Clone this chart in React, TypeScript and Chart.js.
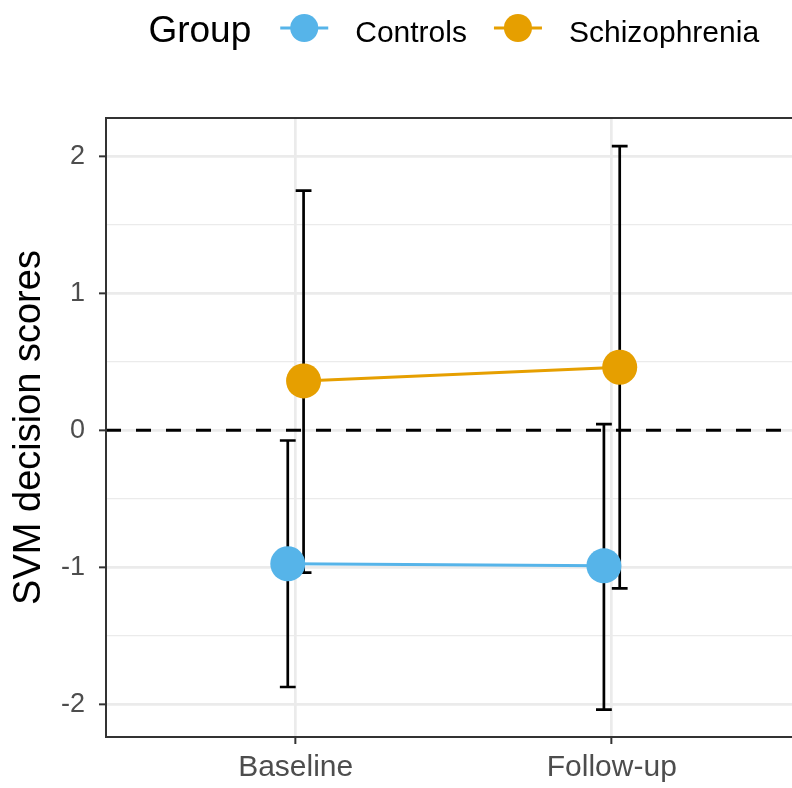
import React, { useEffect, useRef } from 'react';
import { Chart, registerables } from 'chart.js';

Chart.register(...registerables);

const categories = ['Baseline', 'Follow-up'];
const groups = ['Controls', 'Schizophrenia'];
const groupColors = ['#56B4E9', '#E69F00'];
const controlsMean = [-0.975, -0.99];
const controlsLower = [-1.875, -2.04];
const controlsUpper = [-0.075, 0.045];
const schizMean = [0.36, 0.46];
const schizLower = [-1.04, -1.155];
const schizUpper = [1.75, 2.075];
const yMajorTicks = [-2, -1, 0, 1, 2];
const refLine = 0;

const FONT = "'Liberation Sans', Arial, Helvetica, sans-serif";
const DODGE = 0.025;
const CAP_HALF = 0.025;
const X_MIN = 0.4;
const X_MAX_FULL = 2.6;
const X_MAX_VISIBLE = 2.57;

const means = [controlsMean, schizMean];
const lowers = [controlsLower, schizLower];
const uppers = [controlsUpper, schizUpper];
const offsets = [-DODGE, DODGE];

const overlayPlugin = {
  id: 'overlay',
  beforeDatasetsDraw(chart: any) {
    const { ctx, chartArea, scales } = chart;
    const xs = scales.x;
    const ys = scales.y;
    ctx.save();
    ctx.beginPath();
    ctx.rect(chartArea.left, chartArea.top, chartArea.right - chartArea.left, chartArea.bottom - chartArea.top);
    ctx.clip();
    const y0 = ys.getPixelForValue(refLine);
    ctx.strokeStyle = '#000000';
    ctx.lineWidth = 3;
    ctx.setLineDash([15, 15]);
    ctx.beginPath();
    ctx.moveTo(chartArea.left, y0);
    ctx.lineTo(chartArea.right, y0);
    ctx.stroke();
    ctx.setLineDash([]);
    ctx.lineWidth = 2.7;
    ctx.lineCap = 'butt';
    for (let g = 0; g < groups.length; g++) {
      for (let i = 0; i < categories.length; i++) {
        const xv = i + 1 + offsets[g];
        const x = xs.getPixelForValue(xv);
        const xl = xs.getPixelForValue(xv - CAP_HALF);
        const xr = xs.getPixelForValue(xv + CAP_HALF);
        const yt = ys.getPixelForValue(uppers[g][i]);
        const yb = ys.getPixelForValue(lowers[g][i]);
        ctx.beginPath();
        ctx.moveTo(x, yt);
        ctx.lineTo(x, yb);
        ctx.moveTo(xl, yt);
        ctx.lineTo(xr, yt);
        ctx.moveTo(xl, yb);
        ctx.lineTo(xr, yb);
        ctx.stroke();
      }
    }
    ctx.restore();
  },
  afterDraw(chart: any) {
    const { ctx, chartArea, scales } = chart;
    const xs = scales.x;
    const fullRight = xs.getPixelForValue(X_MAX_FULL);
    ctx.save();
    ctx.strokeStyle = '#333333';
    ctx.lineWidth = 2;
    ctx.strokeRect(chartArea.left, chartArea.top, fullRight - chartArea.left, chartArea.bottom - chartArea.top);
    ctx.restore();

    ctx.save();
    const titleFont = `37px ${FONT}`;
    const labelFont = `30px ${FONT}`;
    ctx.font = titleFont;
    const wTitle = ctx.measureText('Group').width;
    ctx.font = labelFont;
    const wLabels = groups.map((g) => ctx.measureText(g).width);
    const keyW = 48;
    const gapTitle = 29;
    const gapKeyLabel = 27;
    const gapLabelKey = 27;
    let total = wTitle + gapTitle;
    wLabels.forEach((w, i) => {
      total += keyW + gapKeyLabel + w + (i < wLabels.length - 1 ? gapLabelKey : 0);
    });
    const center = (chartArea.left + fullRight) / 2;
    let x = center - total / 2;
    const keyY = 28;
    const baseY = 42;
    ctx.fillStyle = '#000000';
    ctx.textBaseline = 'alphabetic';
    ctx.textAlign = 'left';
    ctx.font = titleFont;
    ctx.fillText('Group', x, baseY);
    x += wTitle + gapTitle;
    groups.forEach((g, i) => {
      ctx.strokeStyle = groupColors[i];
      ctx.lineWidth = 3;
      ctx.beginPath();
      ctx.moveTo(x, keyY);
      ctx.lineTo(x + keyW, keyY);
      ctx.stroke();
      ctx.fillStyle = groupColors[i];
      ctx.beginPath();
      ctx.arc(x + keyW / 2, keyY, 14, 0, Math.PI * 2);
      ctx.fill();
      x += keyW + gapKeyLabel;
      ctx.fillStyle = '#000000';
      ctx.font = labelFont;
      ctx.fillText(g, x, baseY);
      x += wLabels[i] + gapLabelKey;
    });
    ctx.restore();
  },
};

function buildYTicks() {
  const t: { value: number }[] = [];
  yMajorTicks.forEach((v, i) => {
    t.push({ value: v });
    if (i < yMajorTicks.length - 1) t.push({ value: (v + yMajorTicks[i + 1]) / 2 });
  });
  return t;
}

export default function App() {
  const ref = useRef<HTMLCanvasElement | null>(null);
  useEffect(() => {
    if (!ref.current) return;
    Chart.defaults.font.family = FONT;
    const chart = new Chart(ref.current, {
      type: 'line',
      data: {
        datasets: groups.map((g, gi) => ({
          label: g,
          data: categories.map((_, i) => ({ x: i + 1 + offsets[gi], y: means[gi][i] })),
          borderColor: groupColors[gi],
          backgroundColor: groupColors[gi],
          borderWidth: 3,
          pointRadius: 17.5,
          pointBorderWidth: 0,
          pointBackgroundColor: groupColors[gi],
          pointHoverRadius: 17.5,
          tension: 0,
          clip: false as any,
        })),
      },
      options: {
        responsive: false,
        animation: false,
        events: [],
        layout: { autoPadding: false, padding: { top: 118, left: 0, right: 0, bottom: 0 } },
        plugins: { legend: { display: false }, tooltip: { enabled: false } },
        scales: {
          x: {
            type: 'linear',
            min: X_MIN,
            max: X_MAX_VISIBLE,
            afterBuildTicks: (s: any) => {
              s.ticks = categories.map((_, i) => ({ value: i + 1 }));
            },
            afterFit: (s: any) => {
              s.height = 51;
              s.paddingLeft = 0;
              s.paddingRight = 0;
            },
            ticks: {
              callback: (v: any) => categories[Math.round(Number(v)) - 1] ?? '',
              font: { size: 30 },
              color: '#4D4D4D',
              padding: 6,
              autoSkip: false,
              maxRotation: 0,
            },
            grid: {
              color: '#EBEBEB',
              lineWidth: 2.7,
              tickLength: 7,
              tickColor: '#333333',
              tickWidth: 2,
            },
            border: { display: false },
          },
          y: {
            type: 'linear',
            min: -2.24,
            max: 2.28,
            afterBuildTicks: (s: any) => {
              s.ticks = buildYTicks();
            },
            afterFit: (s: any) => {
              s.width = 106;
              s.paddingTop = 0;
              s.paddingBottom = 0;
            },
            ticks: {
              callback: (v: any) => (Number.isInteger(Number(v)) ? String(v) : ''),
              font: { size: 27 },
              color: '#4D4D4D',
              padding: 14,
              autoSkip: false,
            },
            grid: {
              color: '#EBEBEB',
              lineWidth: (c: any) => (Number.isInteger(c.tick?.value) ? 2.7 : 1.3),
              tickLength: 7,
              tickColor: (c: any) => (Number.isInteger(c.tick?.value) ? '#333333' : 'rgba(0,0,0,0)'),
              tickWidth: 2,
            },
            border: { display: false },
            title: {
              display: true,
              text: 'SVM decision scores',
              font: { size: 38 },
              color: '#000000',
              padding: { top: 7, bottom: 0 },
            },
          },
        },
      },
      plugins: [overlayPlugin],
    } as any);
    return () => chart.destroy();
  }, []);
  return (
    <div style={{ position: 'absolute', left: 0, top: 0, width: 792, height: 788, background: '#ffffff' }}>
      <canvas ref={ref} width={792} height={788} style={{ display: 'block' }} />
    </div>
  );
}
